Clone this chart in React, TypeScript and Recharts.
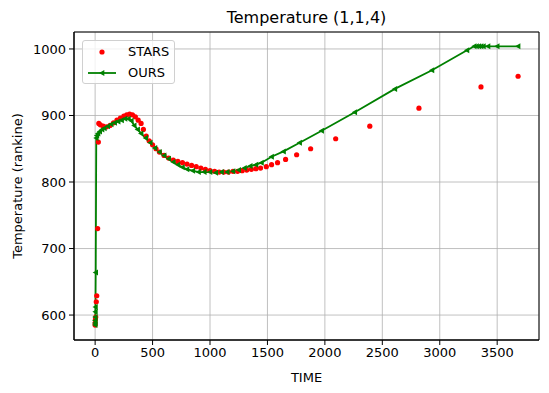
import { LineChart, Line, XAxis, YAxis, CartesianGrid, ReferenceArea } from "recharts";

// STARS reference results (red dots)
const starsTime = [
  0, 0, 2, 5, 10, 14, 22, 28, 32, 45, 70, 100, 130, 160, 190, 220, 250, 275, 300, 325, 350, 375, 400, 420,
  445, 470, 500, 530, 560, 600, 640, 680, 720, 760, 800, 840, 880, 920, 960, 1000, 1040, 1080, 1120, 1160,
  1200, 1240, 1280, 1320, 1360, 1400, 1440, 1490, 1536, 1588, 1658, 1754, 1876, 2094, 2391, 2819, 3359, 3682,
];
const starsTemp = [
  585, 588, 593, 597, 620, 629, 730, 860, 888, 886, 884, 883, 885, 889, 893, 896, 899, 901, 902, 901, 898, 893, 888, 879,
  869, 862, 856, 850, 845, 840, 836, 833, 831, 829, 827, 825, 823, 821, 819, 817, 816, 815, 815, 815,
  816, 816, 817, 818, 819, 820, 821, 823, 826, 829, 834, 841, 850, 865, 884, 911, 943, 959,
];

// our simulator (green line)
const oursTime = [
  0, 0, 0, 1, 2, 3, 5, 10, 15, 25, 40, 60, 80, 110, 140, 170, 200, 230, 260, 290, 315, 340, 370, 400,
  440, 480, 520, 560, 600, 640, 680, 720, 760, 800, 850, 900, 950, 1000, 1050, 1100, 1150, 1200, 1250, 1300,
  1350, 1400, 1448, 1536, 1640, 1780, 1972, 2260, 2609, 2932, 3237, 3300, 3320, 3340, 3360, 3380, 3420, 3500, 3682,
];
const oursTemp = [
  585, 588, 592, 597, 605, 612, 664, 866, 870, 873, 876, 879, 881, 884, 887, 889, 891, 893, 895, 895, 892, 885, 879, 873,
  866, 859, 851, 845, 840, 835, 830, 826, 822, 819, 817, 815, 815, 815, 814, 815, 815, 816, 818, 821,
  824, 826, 829, 838, 846, 859, 877, 905, 940, 968, 998, 1004, 1004, 1004, 1004, 1004, 1004, 1004, 1004,
];

const xTicks = [0, 500, 1000, 1500, 2000, 2500, 3000, 3500];
const yTicks = [600, 700, 800, 900, 1000];

const stars = starsTime.map((t, i) => ({ t, v: starsTemp[i] }));
const ours = oursTime.map((t, i) => ({ t, v: oursTemp[i] }));

const X_DOMAIN: [number, number] = [-184, 3864];
const Y_DOMAIN: [number, number] = [562.5, 1025.5];

const RED = "#ff0000";
const GREEN = "#008000";
const FONT = "DejaVu Sans, sans-serif";

const RedDot = ({ cx, cy }: any) => <circle cx={cx} cy={cy} r={2.6} fill={RED} />;

const LeftTri = ({ cx, cy }: any) => (
  <path d={`M${cx - 3},${cy} L${cx + 2.3},${cy - 3} L${cx + 2.3},${cy + 3} Z`} fill={GREEN} />
);

// matplotlib-style legend box, upper left of the axes
const LegendBox = () => (
  <div
    style={{
      position: "absolute",
      left: 82,
      top: 40,
      width: 93,
      height: 44,
      boxSizing: "border-box",
      border: "1px solid #d0d0d0",
      borderRadius: 3,
      background: "rgba(255,255,255,0.8)",
      fontFamily: FONT,
      fontSize: 13,
      color: "#000",
    }}
  >
    <svg width={40} height={44} style={{ position: "absolute", left: 0, top: 0 }}>
      <circle cx={19} cy={11} r={2.6} fill={RED} />
      <line x1={5} y1={32} x2={33} y2={32} stroke={GREEN} strokeWidth={1.8} />
      <LeftTri cx={19} cy={32} />
    </svg>
    <div style={{ position: "absolute", left: 45, top: 2, lineHeight: "18px" }}>STARS</div>
    <div style={{ position: "absolute", left: 45, top: 23, lineHeight: "18px" }}>OURS</div>
  </div>
);

export default function App() {
  return (
    <div style={{ position: "absolute", left: 0, top: 0, width: 549, height: 393, background: "#fff", fontFamily: FONT }}>
      <div
        style={{
          position: "absolute",
          left: 74,
          width: 465,
          top: 8,
          textAlign: "center",
          fontSize: 16,
          lineHeight: "20px",
          color: "#000",
        }}
      >
        Temperature (1,1,4)
      </div>
      <LineChart width={549} height={393} margin={{ top: 32, right: 10, bottom: 8, left: 14 }} style={{ fontFamily: FONT }}>
        <CartesianGrid stroke="#b0b0b0" strokeWidth={0.8} />
        <XAxis
          dataKey="t"
          type="number"
          domain={X_DOMAIN}
          ticks={xTicks}
          allowDataOverflow
          height={45}
          tickSize={5}
          tickMargin={3}
          stroke="#000"
          tick={{ fontSize: 13, fill: "#000" }}
          label={{ value: "TIME", position: "insideBottom", offset: 3, fontSize: 13, fill: "#000" }}
        />
        <YAxis
          dataKey="v"
          type="number"
          domain={Y_DOMAIN}
          ticks={yTicks}
          allowDataOverflow
          width={60}
          tickSize={5}
          tickMargin={3}
          stroke="#000"
          tick={{ fontSize: 13, fill: "#000" }}
          label={{ value: "Temperature (rankine)", angle: -90, position: "insideLeft", offset: 3, fontSize: 13, fill: "#000", style: { textAnchor: "middle" } }}
        />
        <ReferenceArea x1={X_DOMAIN[0]} x2={X_DOMAIN[1]} y1={Y_DOMAIN[0]} y2={Y_DOMAIN[1]} fill="none" stroke="#000" strokeWidth={1} />
        <Line
          data={stars}
          dataKey="v"
          name="STARS"
          stroke="none"
          dot={<RedDot />}
          activeDot={false}
          isAnimationActive={false}
        />
        <Line
          data={ours}
          dataKey="v"
          name="OURS"
          stroke={GREEN}
          strokeWidth={1.8}
          dot={<LeftTri />}
          activeDot={false}
          isAnimationActive={false}
        />
      </LineChart>
      <LegendBox />
    </div>
  );
}
